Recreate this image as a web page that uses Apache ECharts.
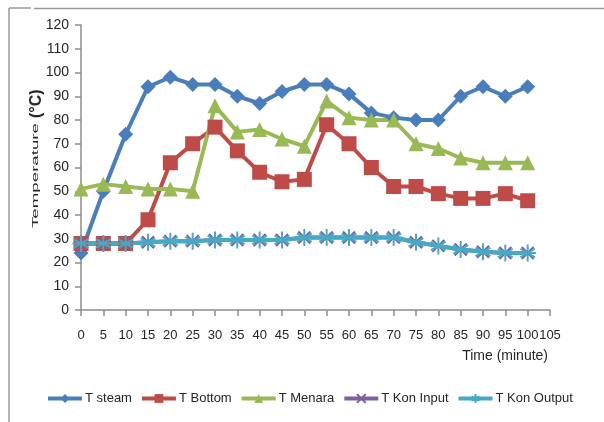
<!DOCTYPE html>
<html>
<head>
<meta charset="utf-8">
<script src="https://cdn.jsdelivr.net/npm/echarts@6/dist/echarts.min.js"></script>
<style>html,body{margin:0;padding:0;background:#fff;}#c{width:604px;height:422px;}</style>
</head>
<body>
<div id="c"></div>
<script>
const time = [0,5,10,15,20,25,30,35,40,45,50,55,60,65,70,75,80,85,90,95,100];
const tSteam = [24,50,74,94,98,95,95,90,87,92,95,95,91,83,81,80,80,90,94,90,94];
const tBottom = [28,28,28,38,62,70,77,67,58,54,55,78,70,60,52,52,49,47,47,49,46];
const tMenara = [51,53,52,51,51,50,86,75,76,72,69,88,81,80,80,70,68,64,62,62,62];
const tKonInput = [28,28,28,28.5,29,29,29.5,29.5,29.5,29.5,30.5,30.5,30.5,30.5,30.5,28.5,27,25.5,24.5,24,24];
const tKonOutput = [28,28,28,28.5,29,29,29.5,29.5,29.5,29.5,30.5,30.5,30.5,30.5,30.5,28.5,27,25.5,24.5,24,24];
const seriesNames = ['T steam','T Bottom','T Menara','T Kon Input','T Kon Output'];

const FONT = "'Liberation Sans',Arial,sans-serif";
const pair = arr => time.map((t,i)=>[t,arr[i]]);
const star = 'path://M0,-10L0,10M-8.7,-5L8.7,5M-8.7,5L8.7,-5M-10,0L10,0';
const xmark = 'path://M-8,-8L8,8M-8,8L8,-8';

function mk(name, data, color, symbol, size, extra) {
  return Object.assign({
    name, type:'line', data: pair(data), symbol, symbolSize:size,
    lineStyle:{color, width:4}, itemStyle:{color}, color,
    animation:false, z:2
  }, extra||{});
}

const chart = echarts.init(document.getElementById('c'), null, {renderer:'canvas'});
chart.setOption({
  animation:false,
  backgroundColor:'#fff',
  grid:{left:81, top:25, right:54, bottom:112, containLabel:false},
  xAxis:{type:'value', min:0, max:105, interval:5,
    axisLine:{show:true, onZero:false, lineStyle:{color:'#8c8c8c', width:1.5}},
    axisTick:{show:true, length:6, lineStyle:{color:'#8c8c8c', width:1.5}},
    splitLine:{show:false},
    axisLabel:{fontFamily:FONT, fontSize:13, color:'#262626', margin:19, showMaxLabel:true, showMinLabel:true, hideOverlap:false}
  },
  yAxis:{type:'value', min:0, max:120, interval:10,
    axisLine:{show:true, lineStyle:{color:'#8c8c8c', width:1.5}},
    axisTick:{show:true, length:6, lineStyle:{color:'#8c8c8c', width:1.5}},
    splitLine:{show:false},
    axisLabel:{fontFamily:FONT, fontSize:14, color:'#262626', margin:12}
  },
  legend:{left:41, top:387, width:580, itemWidth:34, itemHeight:11, itemGap:8,
    data:seriesNames,
    lineStyle:{width:4},
    textStyle:{fontFamily:FONT, fontSize:13, color:'#262626', padding:[0,0,0,-2]}
  },
  series:[
    mk(seriesNames[0], tSteam, '#4A7EBB', 'diamond', 15),
    mk(seriesNames[1], tBottom, '#BE4B48', 'rect', 15),
    mk(seriesNames[2], tMenara, '#98B954', 'triangle', 15),
    mk(seriesNames[3], tKonInput, '#7D60A0', xmark, 12, {itemStyle:{color:'rgba(0,0,0,0)', borderColor:'#7D60A0', borderWidth:2}}),
    mk(seriesNames[4], tKonOutput, '#46AAC5', star, 17, {itemStyle:{color:'rgba(0,0,0,0)', borderColor:'#46AAC5', borderWidth:2}})
  ],
  graphic:[
    {type:'line', shape:{x1:9,y1:8,x2:31,y2:8}, style:{stroke:'#9a9a9a', lineWidth:1.5}},
    {type:'line', shape:{x1:34,y1:8.5,x2:604,y2:8.5}, style:{stroke:'#9a9a9a', lineWidth:1.5}},
    {type:'line', shape:{x1:9,y1:8,x2:9,y2:422}, style:{stroke:'#9a9a9a', lineWidth:1.5}},
    {type:'text', x:548, y:356, style:{text:'Time (minute)', fontFamily:FONT, fontSize:14, fill:'#262626', align:'right', verticalAlign:'middle'}},
    {type:'text', x:35, y:228, rotation:Math.PI/2, scaleX:1.7, scaleY:0.9,
      style:{text:'Temperature', fontFamily:FONT, fontSize:11, fill:'#262626', align:'left', verticalAlign:'middle'}},
    {type:'text', x:37, y:118, rotation:Math.PI/2,
      style:{text:'(°C)', fontFamily:FONT, fontSize:16, fontWeight:'bold', fill:'#262626', align:'left', verticalAlign:'middle'}}
  ]
});
</script>
</body>
</html>
